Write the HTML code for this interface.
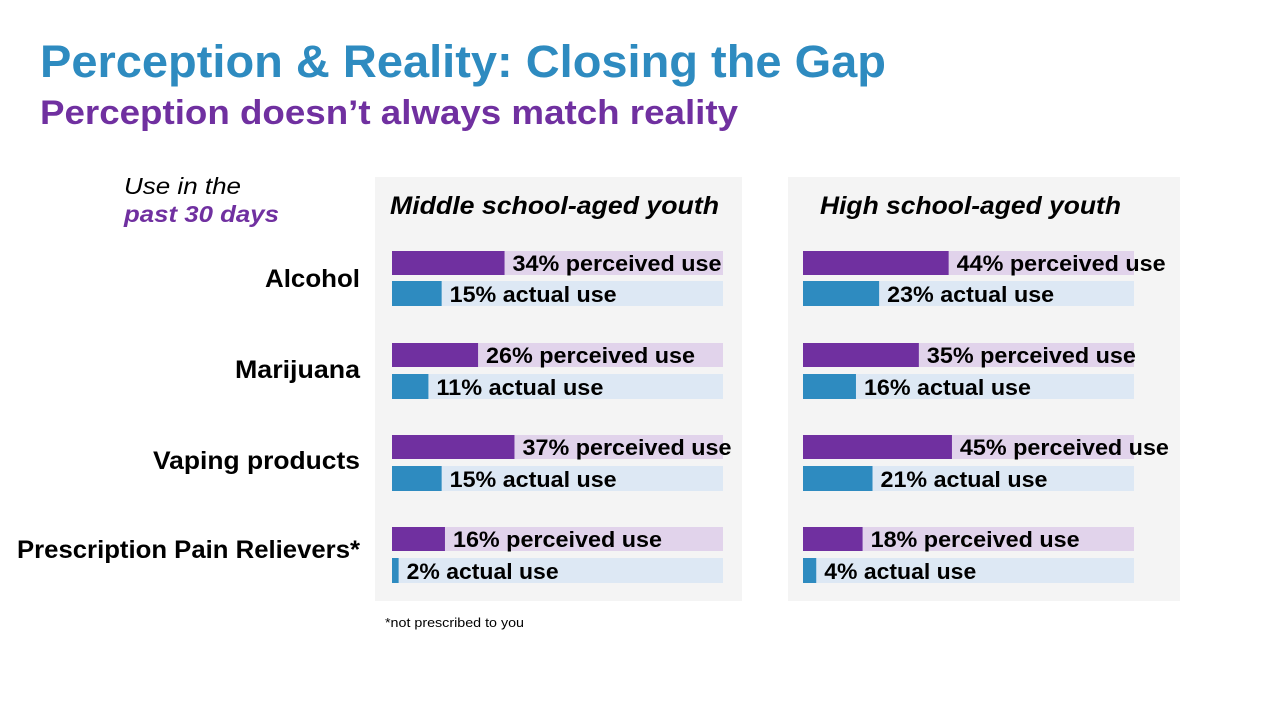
<!DOCTYPE html>
<html><head><meta charset="utf-8"><style>
html,body{margin:0;padding:0;background:#fff;width:1280px;height:720px;overflow:hidden}
svg{display:block;font-family:"Liberation Sans",sans-serif}
</style></head><body>
<svg width="1280" height="720" xmlns="http://www.w3.org/2000/svg">
<text x="40" y="77" font-size="45" font-weight="bold" fill="#2E8BC0" textLength="846" lengthAdjust="spacingAndGlyphs">Perception &amp; Reality: Closing the Gap</text>
<text x="40" y="124" font-size="34" font-weight="bold" fill="#7030A0" textLength="698" lengthAdjust="spacingAndGlyphs">Perception doesn’t always match reality</text>
<text x="124" y="194" font-size="23" font-style="italic" fill="#000" textLength="117" lengthAdjust="spacingAndGlyphs">Use in the</text>
<text x="124" y="222" font-size="23" font-style="italic" font-weight="bold" fill="#7030A0" textLength="155" lengthAdjust="spacingAndGlyphs">past 30 days</text>
<rect x="375" y="177" width="367" height="424" fill="#F4F4F4"/>
<rect x="788" y="177" width="392" height="424" fill="#F4F4F4"/>
<text x="390" y="214" font-size="25" font-style="italic" font-weight="bold" textLength="329" lengthAdjust="spacingAndGlyphs">Middle school-aged youth</text>
<text x="820" y="214" font-size="25" font-style="italic" font-weight="bold" textLength="301" lengthAdjust="spacingAndGlyphs">High school-aged youth</text>
<g font-size="25" font-weight="bold">
<text x="265" y="287" textLength="95" lengthAdjust="spacingAndGlyphs">Alcohol</text>
<text x="235" y="378" textLength="125" lengthAdjust="spacingAndGlyphs">Marijuana</text>
<text x="153" y="469" textLength="207" lengthAdjust="spacingAndGlyphs">Vaping products</text>
<text x="17" y="558" textLength="343" lengthAdjust="spacingAndGlyphs">Prescription Pain Relievers*</text>
</g>
<g id="bars" font-size="22" font-weight="bold"></g>
<text x="385" y="627" font-size="13" textLength="139" lengthAdjust="spacingAndGlyphs">*not prescribed to you</text>
</svg>
<script>
var g=document.getElementById('bars');
var ms=[[34,15],[26,11],[37,15],[16,2]],hs=[[44,23],[35,16],[45,21],[18,4]];
var py=[251,343,435,527],ay=[281,374,466,558];
function add(x0,d){
 for(var i=0;i<4;i++){
  var p=d[i][0],a=d[i][1];
  g.innerHTML+='<rect x="'+x0+'" y="'+py[i]+'" width="331" height="24" fill="#E1D3EB"/>'+
  '<rect x="'+x0+'" y="'+py[i]+'" width="'+(p*3.31)+'" height="24" fill="#7030A0"/>'+
  '<rect x="'+x0+'" y="'+ay[i]+'" width="331" height="25" fill="#DDE8F4"/>'+
  '<rect x="'+x0+'" y="'+ay[i]+'" width="'+(a*3.31)+'" height="25" fill="#2E8BC0"/>'+
  '<text x="'+(x0+p*3.31+8)+'" y="'+(py[i]+20)+'" textLength="209" lengthAdjust="spacingAndGlyphs">'+p+'% perceived use</text>'+
  '<text x="'+(x0+a*3.31+8)+'" y="'+(ay[i]+21)+'" textLength="'+(a<10?152:167)+'" lengthAdjust="spacingAndGlyphs">'+a+'% actual use</text>';
 }
}
add(392,ms);add(803,hs);
</script>
</body></html>
